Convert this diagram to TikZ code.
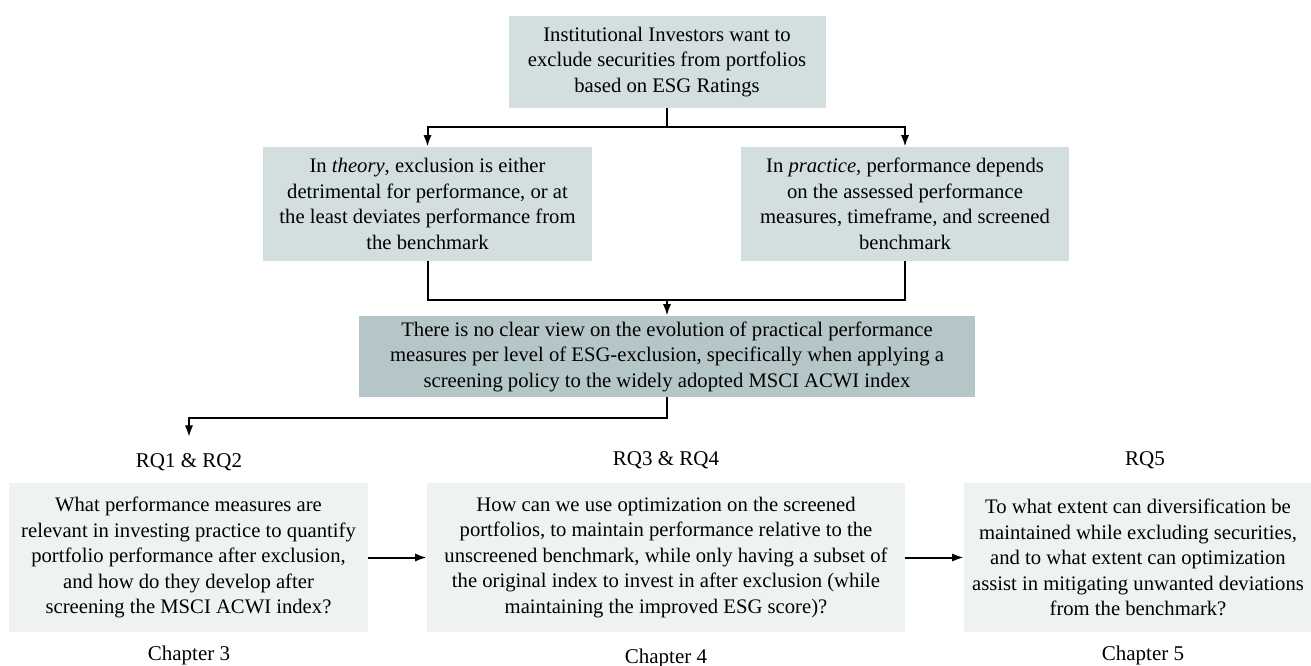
\documentclass[tikz,border=0pt]{standalone}
\usepackage{fontspec}
\setmainfont{Liberation Serif}
\usepackage{tikz}
\usetikzlibrary{arrows.meta}

\definecolor{boxgray}{RGB}{211,222,222}
\definecolor{gapgray}{RGB}{180,198,199}
\definecolor{rqgray}{RGB}{239,242,242}

\begin{document}
\begin{tikzpicture}[x=0.6pt,y=-0.6pt,>={Latex[length=7pt,width=5pt]},
	flow/.style={line width=1.2pt},
	claim/.style={fill=boxgray,align=center,inner sep=0pt,font=\fontsize{12.4}{15.3}\selectfont},
	gapbox/.style={fill=gapgray,align=center,inner sep=0pt,font=\fontsize{12.4}{15.3}\selectfont},
	question/.style={fill=rqgray,align=center,inner sep=0pt,minimum height=149*0.6pt,font=\fontsize{12.4}{15.3}\selectfont},
	tag/.style={inner sep=0pt,font=\fontsize{12.6}{13}\selectfont}]
			\useasboundingbox (0,0) rectangle (1311,666);
			% problem statement
			\node[claim, minimum width=317*0.6pt, minimum height=92*0.6pt] (investors) at (667,62)
				{Institutional Investors want to\\exclude securities from portfolios\\based on ESG Ratings};
			\node[claim, minimum width=329*0.6pt, minimum height=114*0.6pt] (theory) at (427.5,204)
				{In \textit{theory}, exclusion is either\\detrimental for performance, or at\\the least deviates performance from\\the benchmark};
			\node[claim, minimum width=328*0.6pt, minimum height=114*0.6pt] (practice) at (905,204)
				{In \textit{practice}, performance depends\\on the assessed performance\\measures, timeframe, and screened\\benchmark};
			\node[gapbox, minimum width=616*0.6pt, minimum height=81*0.6pt] (gap) at (667,356.5)
				{There is no clear view on the evolution of practical performance\\measures per level of ESG-exclusion, specifically when applying a\\screening policy to the widely adopted MSCI ACWI index};
			% research questions
			\node[question, minimum width=359*0.6pt] (rqone) at (188.5,557.5)
				{What performance measures are\\relevant in investing practice to quantify\\portfolio performance after exclusion,\\and how do they develop after\\screening the MSCI ACWI index?};
			\node[question, minimum width=478*0.6pt] (rqtwo) at (666,557.5)
				{How can we use optimization on the screened\\portfolios, to maintain performance relative to the\\unscreened benchmark, while only having a subset of\\the original index to invest in after exclusion (while\\maintaining the improved ESG score)?};
			\node[question, minimum width=348*0.6pt] (rqthree) at (1138,557.5)
				{To what extent can diversification be\\maintained while excluding securities,\\and to what extent can optimization\\assist in mitigating unwanted deviations\\from the benchmark?};
			\node[tag] (rqonelbl) at (189,462) {RQ1 \& RQ2};
			\node[tag] (rqtwolbl) at (666,460) {RQ3 \& RQ4};
			\node[tag] (rqthreelbl) at (1145,460) {RQ5};
			\node[tag] (chapone) at (189,655) {Chapter 3};
			\node[tag] (chaptwo) at (666,658) {Chapter 4};
			\node[tag] (chapthree) at (1143,655) {Chapter 5};
			% connectors
			\coordinate (split) at (667,127);
			\coordinate (join) at (667,300);
			\coordinate (rqdrop) at (189,437);
			\draw[flow] (investors.south) -- (split);
			\draw[flow,->] (split) -| (theory.north);
			\draw[flow,->] (split) -| (practice.north);
			\draw[flow] (theory.south) |- (join) -| (practice.south);
			\draw[flow,->] (join) -- (gap.north);
			\draw[flow,->] (gap.south) -- ++(0,21) -| (rqdrop);
			\draw[flow,->] (rqone.east) -- (rqtwo.west);
			\draw[flow,->] (rqtwo.east) -- (rqthree.west);
\end{tikzpicture}
\end{document}
